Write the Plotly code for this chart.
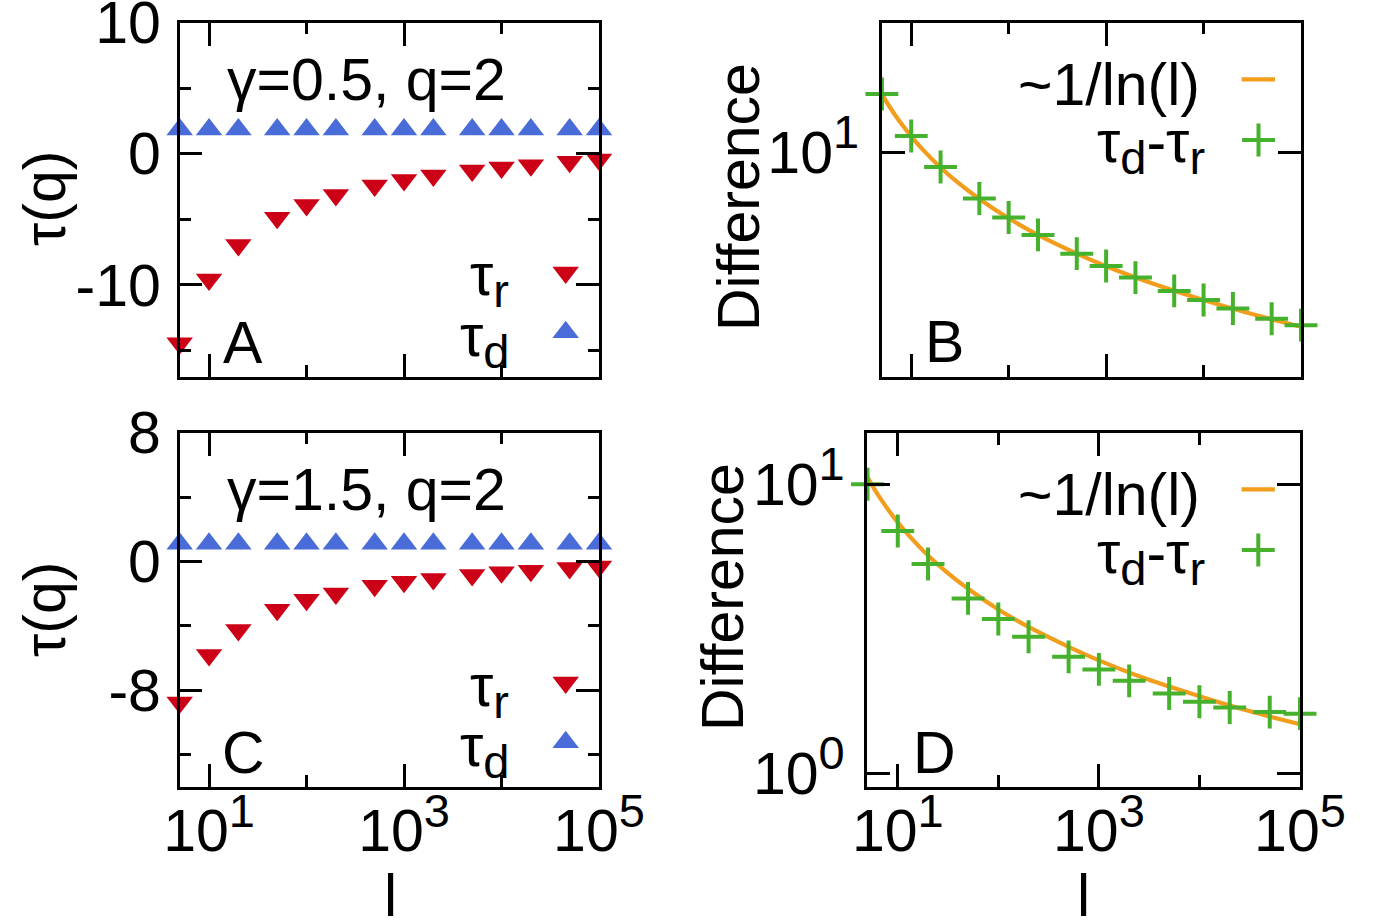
import math
import plotly.graph_objects as go

W, H = 1374, 924

# ---------------- data ----------------
l_vals = [5, 10, 20, 50, 100, 200, 500, 1000, 2000, 5000, 10000, 20000, 50000, 100000]

tau_r_A = [-14.44, -9.59, -6.96, -4.87, -3.90, -3.14, -2.42, -1.99, -1.66, -1.28, -1.05, -0.87, -0.61, -0.43]
tau_d_A = [1.86, 1.86, 1.86, 1.86, 1.86, 1.86, 1.86, 1.86, 1.86, 1.86, 1.86, 1.86, 1.86, 1.86]

diff_B = [16.4, 11.5, 8.85, 6.78, 5.77, 4.98, 4.25, 3.83, 3.47, 3.10, 2.87, 2.67, 2.45, 2.32]

tau_r_C = [-8.76, -5.81, -4.26, -3.00, -2.38, -1.99, -1.51, -1.26, -1.09, -0.85, -0.68, -0.58, -0.41, -0.31]
tau_d_C = [1.10, 1.10, 1.10, 1.10, 1.10, 1.10, 1.10, 1.10, 1.10, 1.10, 1.10, 1.10, 1.10, 1.10]

diff_D = [10.0, 6.89, 5.30, 4.03, 3.42, 2.97, 2.53, 2.29, 2.09, 1.89, 1.77, 1.69, 1.63, 1.61]

fit_l = [5, 6, 7, 8, 10, 13, 20, 30, 50, 100, 200, 500, 1000, 3000, 10000, 30000, 100000]
fit_B = [16.40, 14.73, 13.57, 12.70, 11.47, 10.29, 8.81, 7.76, 6.75, 5.73, 4.98, 4.25, 3.82, 3.30, 2.87, 2.56, 2.29]
fit_D = [10.56, 9.49, 8.74, 8.18, 7.38, 6.63, 5.67, 5.00, 4.35, 3.69, 3.21, 2.74, 2.46, 2.12, 1.85, 1.65, 1.48]

# ---------------- styling ----------------
FONT = "Liberation Sans, Arial, Helvetica, sans-serif"
FS = 59
SS = 47  # size of super/subscripts
RED = "#cc0016"
BLUE = "#4a6cd8"
GREEN = "#46b12c"
ORANGE = "#f29d1c"
LW = 2.6
MAJ = 23
MIN = 11.5
TRI = 23
XLO = math.log10(5) - 0.002


def sup(t):
    return "<sup><span style='font-size:%dpx'>%s</span></sup>" % (SS, t)


def sub(t):
    return "<sub><span style='font-size:%dpx'>%s</span></sub>" % (SS, t)


x_tickvals = [10, 1000, 100000]
x_ticktext = ["10" + sup("1"), "10" + sup("3"), "10" + sup("5")]
x_minorvals = [100, 10000]


def px_x(p):
    return p / W


def px_y(p):
    return 1 - p / H


# plot boxes in pixels: (left, right, top, bottom)
boxes = {
    "A": (179.5, 599.0, 22.7, 376.7),
    "B": (881.7, 1301.0, 22.7, 376.7),
    "C": (179.5, 599.0, 432.7, 786.7),
    "D": (867.3, 1300.0, 433.3, 786.7),
}

fig = go.Figure()


def add_axes(idx, box, xlabels, ycfg):
    l, r, t, b = box
    xa = dict(
        domain=[px_x(l), px_x(r)], type="log", range=[XLO, 5],
        anchor="y%d" % idx if idx > 1 else "y",
        showline=True, linecolor="black", linewidth=LW, mirror="ticks",
        ticks="inside", ticklen=MAJ, tickwidth=LW, tickcolor="black",
        tickvals=x_tickvals, ticktext=x_ticktext, showticklabels=xlabels,
        minor=dict(tickvals=x_minorvals, ticks="inside", ticklen=MIN, tickwidth=LW, tickcolor="black", showgrid=False),
        showgrid=False, zeroline=False, automargin=False, ticklabeloverflow="allow",
        tickfont=dict(family=FONT, size=FS, color="black"),
        ticklabelstandoff=-9,
    )
    ya = dict(
        domain=[px_y(b), px_y(t)],
        anchor="x%d" % idx if idx > 1 else "x",
        showline=True, linecolor="black", linewidth=LW, mirror="ticks",
        ticks="inside", ticklen=MAJ, tickwidth=LW, tickcolor="black",
        showgrid=False, zeroline=False, automargin=False, ticklabeloverflow="allow",
        tickfont=dict(family=FONT, size=FS, color="black"),
        ticklabelstandoff=4,
    )
    ya.update(ycfg)
    key = "" if idx == 1 else str(idx)
    fig.update_layout(**{"xaxis" + key: xa, "yaxis" + key: ya})
    # overlay axes (0..1) used for the key samples
    ov = idx + 4
    fig.update_layout(**{
        "xaxis%d" % ov: dict(overlaying="x" + key, anchor="y%d" % ov, range=[0, 1], visible=False, domain=[px_x(l), px_x(r)]),
        "yaxis%d" % ov: dict(overlaying="y" + key, anchor="x%d" % ov, range=[0, 1], visible=False, domain=[px_y(b), px_y(t)]),
    })


add_axes(1, boxes["A"], False, dict(range=[-17, 10], tickvals=[-10, 0, 10], ticktext=["-10", "0", "10"],
                                     minor=dict(tickvals=[-15, -5, 5], ticks="inside", ticklen=MIN, tickwidth=LW, tickcolor="black", showgrid=False)))
add_axes(2, boxes["B"], False, dict(type="log", range=[math.log10(1.5), math.log10(30)], tickvals=[10],
                                     ticktext=["10" + sup("1")], ticklabelstandoff=8))
add_axes(3, boxes["C"], True, dict(range=[-14, 8], tickvals=[-8, 0, 8], ticktext=["-8", "0", "8"],
                                    minor=dict(tickvals=[-12, -4, 4], ticks="inside", ticklen=MIN, tickwidth=LW, tickcolor="black", showgrid=False)))
add_axes(4, boxes["D"], True, dict(type="log", range=[math.log10(0.9), math.log10(15)], tickvals=[1, 10],
                                    ticktext=["10" + sup("0"), "10" + sup("1")], ticklabelstandoff=8))


def ax(i):
    return ("x", "y") if i == 1 else ("x%d" % i, "y%d" % i)


# panels A and C
for i, tr, td in [(1, tau_r_A, tau_d_A), (3, tau_r_C, tau_d_C)]:
    xa, ya = ax(i)
    fig.add_trace(go.Scatter(x=l_vals, y=tr, mode="markers", xaxis=xa, yaxis=ya, cliponaxis=False,
                             marker=dict(symbol="triangle-down", size=TRI, color=RED, line=dict(width=0)),
                             showlegend=False))
    fig.add_trace(go.Scatter(x=l_vals, y=td, mode="markers", xaxis=xa, yaxis=ya, cliponaxis=False,
                             marker=dict(symbol="triangle-up", size=TRI, color=BLUE, line=dict(width=0)),
                             showlegend=False))

# panels B and D
for i, fit, dd in [(2, fit_B, diff_B), (4, fit_D, diff_D)]:
    xa, ya = ax(i)
    fig.add_trace(go.Scatter(x=fit_l, y=fit, mode="lines", xaxis=xa, yaxis=ya, line=dict(color=ORANGE, width=4.2, shape="spline"),
                             showlegend=False))
    fig.add_trace(go.Scatter(x=l_vals, y=dd, mode="markers", xaxis=xa, yaxis=ya, cliponaxis=False,
                             marker=dict(symbol="cross-thin", size=23.5, color=GREEN, line=dict(width=4, color=GREEN)),
                             showlegend=False))

# key samples (in 0..1 overlay axes)
for ov in (5, 7):
    fig.add_trace(go.Scatter(x=[0.9206], y=[0.2945], mode="markers", xaxis="x%d" % ov, yaxis="y%d" % ov, cliponaxis=False,
                             marker=dict(symbol="triangle-down", size=TRI, color=RED, line=dict(width=0)), showlegend=False))
    fig.add_trace(go.Scatter(x=[0.9206], y=[0.1254], mode="markers", xaxis="x%d" % ov, yaxis="y%d" % ov, cliponaxis=False,
                             marker=dict(symbol="triangle-up", size=TRI, color=BLUE, line=dict(width=0)), showlegend=False))
for ov, x0, x1, yl, xp, yp in [(6, 0.8586, 0.938, 0.840, 0.8987, 0.6686), (8, 0.865, 0.942, 0.8416, 0.9036, 0.6698)]:
    fig.add_trace(go.Scatter(x=[x0, x1], y=[yl, yl], mode="lines", xaxis="x%d" % ov, yaxis="y%d" % ov,
                             line=dict(color=ORANGE, width=4.2), showlegend=False))
    fig.add_trace(go.Scatter(x=[xp], y=[yp], mode="markers", xaxis="x%d" % ov, yaxis="y%d" % ov, cliponaxis=False,
                             marker=dict(symbol="cross-thin", size=23.5, color=GREEN, line=dict(width=4, color=GREEN)),
                             showlegend=False))

annotations = []


def note(text, x, y, xanchor="center", yanchor="middle", angle=0, size=FS):
    annotations.append(dict(text=text, x=px_x(x), y=px_y(y), xref="paper", yref="paper", showarrow=False,
                            xanchor=xanchor, yanchor=yanchor, textangle=angle,
                            font=dict(family=FONT, size=size, color="black")))


note("γ=0.5, q=2", 366, 80)
note("γ=1.5, q=2", 366, 490)
note("A", 242.5, 342.5)
note("B", 944, 342)
note("C", 243, 752.5)
note("D", 934, 752.5)
note("τ" + sub("r"), 511, 280, xanchor="right")
note("τ" + sub("d"), 511, 340, xanchor="right")
note("τ" + sub("r"), 511, 690, xanchor="right")
note("τ" + sub("d"), 511, 750, xanchor="right")
note("~1/ln(l)", 1202, 85, xanchor="right")
note("τ" + sub("d") + "-τ" + sub("r"), 1207, 147, xanchor="right")
note("~1/ln(l)", 1202, 495, xanchor="right")
note("τ" + sub("d") + "-τ" + sub("r"), 1207, 557, xanchor="right")
note("τ(q)", 45, 199, angle=-90)
note("τ(q)", 45, 610, angle=-90)
note("Difference", 739, 197, angle=-90)
note("Difference", 723, 597, angle=-90)
note("l", 390, 896)
note("l", 1083, 896)

fig.update_layout(width=W, height=H, margin=dict(l=0, r=0, t=0, b=0, pad=0, autoexpand=False),
                  paper_bgcolor="white", plot_bgcolor="white",
                  showlegend=False, annotations=annotations, font=dict(family=FONT, size=FS, color="black"))

fig.write_html("out.html")
